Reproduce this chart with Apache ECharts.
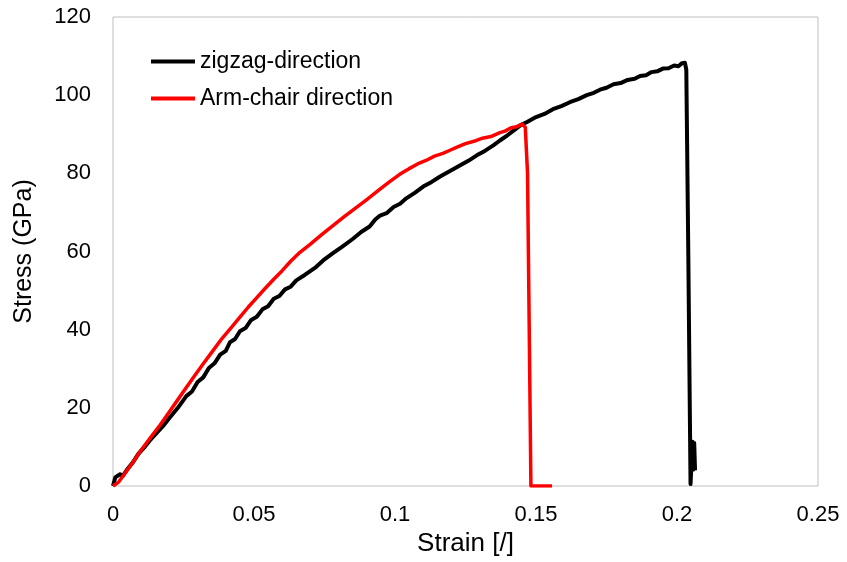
<!DOCTYPE html>
<html>
<head>
<meta charset="utf-8">
<script src="https://cdn.jsdelivr.net/npm/echarts@6/dist/echarts.min.js"></script>
<style>
  html, body { margin: 0; padding: 0; background: #ffffff; }
  #chart { width: 847px; height: 562px; }
</style>
</head>
<body>
<div id="chart"></div>
<script>
// Stress-strain response of the two loading directions
const seriesNames = ['zigzag-direction', 'Arm-chair direction'];

const zigzagStrain = [
  0, 0.0008, 0.0015, 0.0025, 0.0035, 0.005, 0.007, 0.009, 0.011, 0.013,
  0.015, 0.0177, 0.020, 0.023, 0.026, 0.028, 0.030, 0.032, 0.034, 0.036,
  0.038, 0.040, 0.0415, 0.0433, 0.045, 0.047, 0.049, 0.051, 0.053, 0.055,
  0.057, 0.059, 0.061, 0.063, 0.065, 0.068, 0.0716, 0.075, 0.078, 0.0812,
  0.085, 0.088, 0.091, 0.093, 0.0947, 0.097, 0.0995, 0.1018, 0.104, 0.107,
  0.110, 0.113, 0.116, 0.1195, 0.123, 0.126, 0.129, 0.132, 0.135, 0.1372,
  0.140, 0.1425, 0.1443, 0.147, 0.150, 0.153, 0.156, 0.159, 0.162, 0.165,
  0.168, 0.1705, 0.1727, 0.175, 0.1775, 0.180, 0.1825, 0.185, 0.1869, 0.189,
  0.191, 0.193, 0.195, 0.197, 0.199, 0.2005, 0.2018, 0.2028, 0.2033, 0.2040,
  0.2048, 0.2053, 0.2055, 0.2058, 0.2061, 0.2064
];
const zigzagStress = [
  0, 2.2, 1.8, 3.0, 2.6, 4.2, 6.0, 8.2, 9.8, 11.6,
  13.2, 15.3, 17.4, 20.0, 23.0, 24.2, 26.6, 27.8, 30.2, 31.4,
  33.6, 34.6, 36.8, 37.6, 39.6, 40.4, 42.5, 43.3, 45.2, 46.0,
  47.9, 48.6, 50.3, 51.0, 52.6, 54.0, 55.8, 58.0, 59.6, 61.2,
  63.2, 65.0, 66.4, 68.2, 69.2, 69.8, 71.4, 72.2, 73.6, 75.0,
  76.6, 77.8, 79.2, 80.6, 82.0, 83.2, 84.6, 85.8, 87.2, 88.4,
  89.8, 91.2, 92.2, 93.2, 94.4, 95.2, 96.4, 97.2, 98.2, 99.0,
  100.0, 100.6, 101.4, 101.9, 102.8, 103.1, 103.9, 104.2, 104.9, 105.1,
  105.9, 106.1, 106.8, 106.9, 107.6, 107.4, 108.2, 108.3, 106.5, 60,
  0.5, 0, 11.3, 4.2, 11.0, 4.0
];

const armStrain = [
  0, 0.002, 0.004, 0.007, 0.010, 0.0135, 0.0167, 0.020, 0.023, 0.026,
  0.029, 0.032, 0.035, 0.0387, 0.042, 0.045, 0.048, 0.051, 0.054, 0.057,
  0.060, 0.063, 0.0663, 0.070, 0.074, 0.078, 0.082, 0.086, 0.090, 0.094,
  0.098, 0.1018, 0.105, 0.108, 0.111, 0.114, 0.117, 0.1195, 0.122, 0.125,
  0.128, 0.131, 0.134, 0.1372, 0.139, 0.141, 0.143, 0.1450, 0.1462, 0.1470,
  0.1482, 0.1557
];
const armStress = [
  0, 1.0, 3.0, 6.0, 9.2, 12.6, 15.6, 19.0, 22.1, 25.2,
  28.3, 31.3, 34.2, 37.8, 40.6, 43.2, 45.8, 48.2, 50.6, 52.9,
  55.1, 57.5, 59.8, 61.9, 64.3, 66.6, 68.9, 71.1, 73.3, 75.6,
  77.8, 79.8, 81.2, 82.4, 83.3, 84.4, 85.1, 85.9, 86.7, 87.6,
  88.2, 89.0, 89.4, 90.4, 90.8, 91.6, 91.9, 92.6, 91.8, 80,
  0, 0
];

const strainTicks = [0, 0.05, 0.1, 0.15, 0.2, 0.25];
const stressTicks = [0, 20, 40, 60, 80, 100, 120];

const pairs = (xs, ys) => xs.map((x, i) => [x, ys[i]]);

const FONT = '"Liberation Sans", Arial, sans-serif';

const chart = echarts.init(document.getElementById('chart'), null, { renderer: 'canvas' });

chart.setOption({
  animation: false,
  backgroundColor: '#ffffff',
  grid: {
    left: 113, top: 17, right: 29, bottom: 74,
    show: true, borderColor: '#bfbfbf', borderWidth: 1, backgroundColor: 'transparent'
  },
  legend: {
    orient: 'vertical',
    left: 146, top: 45,
    itemWidth: 44, itemHeight: 4, itemGap: 14,
    icon: 'rect',
    textStyle: { fontFamily: FONT, fontSize: 23, color: '#000000' },
    data: seriesNames
  },
  xAxis: {
    type: 'value',
    min: strainTicks[0], max: strainTicks[strainTicks.length - 1], interval: 0.05,
    name: 'Strain [/]', nameLocation: 'middle', nameGap: 45,
    nameTextStyle: { fontFamily: FONT, fontSize: 26, color: '#000000' },
    axisLine: { show: false },
    axisTick: { show: false },
    splitLine: { show: false },
    axisLabel: {
      fontFamily: FONT, fontSize: 22, color: '#000000', margin: 18,
      formatter: v => String(+v.toFixed(2))
    }
  },
  yAxis: {
    type: 'value',
    min: stressTicks[0], max: stressTicks[stressTicks.length - 1], interval: 20,
    name: 'Stress (GPa)', nameLocation: 'middle', nameGap: 76,
    nameTextStyle: { fontFamily: FONT, fontSize: 25, color: '#000000' },
    axisLine: { show: false },
    axisTick: { show: false },
    splitLine: { show: false },
    axisLabel: { fontFamily: FONT, fontSize: 22, color: '#000000', margin: 22 }
  },
  series: [
    {
      name: seriesNames[0],
      type: 'line',
      data: pairs(zigzagStrain, zigzagStress),
      showSymbol: false,
      symbol: 'none',
      color: '#000000',
      lineStyle: { color: '#000000', width: 4, join: 'round' }
    },
    {
      name: seriesNames[1],
      type: 'line',
      data: pairs(armStrain, armStress),
      showSymbol: false,
      symbol: 'none',
      color: '#ff0000',
      lineStyle: { color: '#ff0000', width: 3.5, join: 'round' }
    }
  ]
});
</script>
</body>
</html>
